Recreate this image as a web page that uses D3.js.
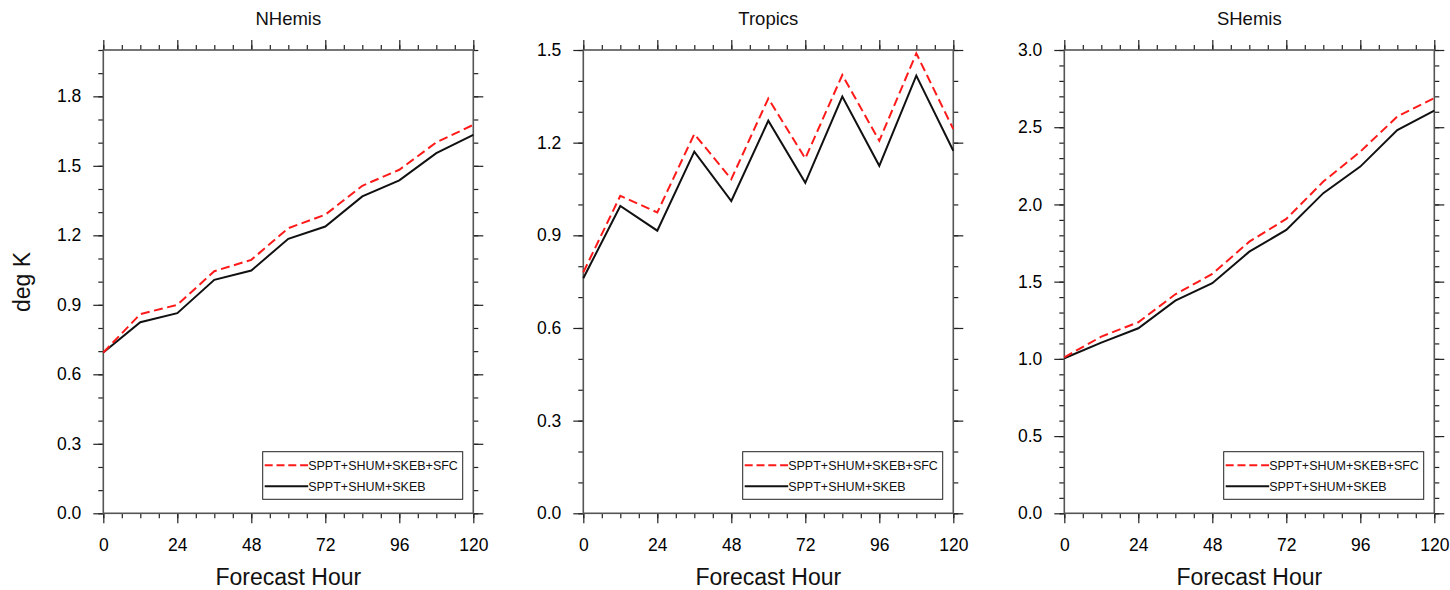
<!DOCTYPE html>
<html>
<head>
<meta charset="utf-8">
<script src="https://cdn.jsdelivr.net/npm/d3@7"></script>
<style>
  html, body { margin: 0; padding: 0; background: #fff; }
  svg { display: block; font-family: "Liberation Sans", Arial, Helvetica, sans-serif; }
</style>
</head>
<body>
<svg id="chart" width="1450" height="590"></svg>
<script>
// ---- data ----
const hours = [0, 12, 24, 36, 48, 60, 72, 84, 96, 108, 120];
const seriesNames = ["SPPT+SHUM+SKEB+SFC", "SPPT+SHUM+SKEB"];
const panelTitles = ["NHemis", "Tropics", "SHemis"];

const nhemisSfc  = [0.694, 0.860, 0.900, 1.045, 1.094, 1.231, 1.289, 1.414, 1.483, 1.601, 1.677];
const nhemisBase = [0.694, 0.825, 0.864, 1.008, 1.048, 1.185, 1.238, 1.368, 1.437, 1.555, 1.634];
const tropicsSfc  = [0.780, 1.028, 0.974, 1.228, 1.082, 1.343, 1.149, 1.419, 1.206, 1.489, 1.244];
const tropicsBase = [0.761, 0.995, 0.915, 1.171, 1.011, 1.271, 1.070, 1.349, 1.125, 1.417, 1.174];
const shemisSfc  = [1.010, 1.144, 1.237, 1.418, 1.550, 1.759, 1.906, 2.148, 2.342, 2.569, 2.688];
const shemisBase = [1.004, 1.105, 1.198, 1.377, 1.490, 1.694, 1.835, 2.073, 2.245, 2.482, 2.607];

const xMajorTicks = [0, 24, 48, 72, 96, 120];
const xMinorTicks = d3.range(0, 121, 6);
const nhemisYTicks  = [0.0, 0.3, 0.6, 0.9, 1.2, 1.5, 1.8];
const tropicsYTicks = [0.0, 0.3, 0.6, 0.9, 1.2, 1.5];
const shemisYTicks  = [0.0, 0.5, 1.0, 1.5, 2.0, 2.5, 3.0];
const yMaxes = [2.0, 1.5, 3.0];

const xLabel = "Forecast Hour";
const yLabel = "deg K";

// ---- layout ----
const panels = [
  { title: panelTitles[0], left: 103.3, yMax: yMaxes[0], yTicks: nhemisYTicks, sfc: nhemisSfc, base: nhemisBase },
  { title: panelTitles[1], left: 583.3, yMax: yMaxes[1], yTicks: tropicsYTicks, sfc: tropicsSfc, base: tropicsBase },
  { title: panelTitles[2], left: 1064.3, yMax: yMaxes[2], yTicks: shemisYTicks, sfc: shemisSfc, base: shemisBase }
];
const plotW = 370, plotTop = 50, plotBottom = 513.3;
const svg = d3.select("#chart");
const frameColor = "#555";
const tickColor = "#222";

panels.forEach((p, i) => {
  const x = d3.scaleLinear().domain([0, 120]).range([p.left, p.left + plotW]);
  const y = d3.scaleLinear().domain([0, p.yMax]).range([plotBottom, plotTop]);
  const g = svg.append("g");
  const yMinor = d3.range(0, Math.round(p.yMax * 10) + 1).map(v => v / 10);

  function styleAxis(sel) {
    sel.select(".domain").remove();
    sel.selectAll(".tick line").attr("stroke", tickColor).attr("stroke-width", 1.2);
  }
  // minor ticks
  [[d3.axisBottom(x), `translate(0,${plotBottom})`, xMinorTicks],
   [d3.axisTop(x), `translate(0,${plotTop})`, xMinorTicks]].forEach(([ax, tr, tv]) => {
    g.append("g").attr("transform", tr)
      .call(ax.tickValues(tv).tickSize(5).tickFormat(""))
      .call(styleAxis);
  });
  [[d3.axisLeft(y), `translate(${p.left},0)`], [d3.axisRight(y), `translate(${p.left + plotW},0)`]].forEach(([ax, tr]) => {
    g.append("g").attr("transform", tr)
      .call(ax.tickValues(yMinor).tickSize(5).tickFormat(""))
      .call(styleAxis);
  });
  // major ticks
  const xb = g.append("g").attr("transform", `translate(0,${plotBottom})`)
    .call(d3.axisBottom(x).tickValues(xMajorTicks).tickSize(10).tickPadding(15).tickFormat(d3.format("d")))
    .call(styleAxis);
  xb.selectAll("text").attr("font-size", 17.5).attr("fill", "#000").attr("font-family", "Liberation Sans, Arial, sans-serif");
  g.append("g").attr("transform", `translate(0,${plotTop})`)
    .call(d3.axisTop(x).tickValues(xMajorTicks).tickSize(10).tickFormat(""))
    .call(styleAxis);
  const yl = g.append("g").attr("transform", `translate(${p.left},0)`)
    .call(d3.axisLeft(y).tickValues(p.yTicks).tickSize(10).tickPadding(12).tickFormat(d3.format(".1f")))
    .call(styleAxis);
  yl.selectAll("text").attr("font-size", 17.5).attr("fill", "#000").attr("font-family", "Liberation Sans, Arial, sans-serif");
  g.append("g").attr("transform", `translate(${p.left + plotW},0)`)
    .call(d3.axisRight(y).tickValues(p.yTicks).tickSize(10).tickFormat(""))
    .call(styleAxis);

  // frame
  g.append("rect").attr("x", p.left).attr("y", plotTop).attr("width", plotW).attr("height", plotBottom - plotTop)
    .attr("fill", "none").attr("stroke", frameColor).attr("stroke-width", 1.6);

  // lines
  const line = d3.line().x((d, k) => x(hours[k])).y(d => y(d));
  g.append("path").datum(p.base).attr("d", line)
    .attr("fill", "none").attr("stroke", "#111").attr("stroke-width", 2);
  g.append("path").datum(p.sfc).attr("d", line)
    .attr("fill", "none").attr("stroke", "#ff1a1a").attr("stroke-width", 2).attr("stroke-dasharray", "9,4.5");

  // titles
  g.append("text").attr("x", p.left + plotW / 2).attr("y", 25).attr("text-anchor", "middle")
    .attr("font-size", 18.5).attr("fill", "#111").text(p.title);
  g.append("text").attr("x", p.left + plotW / 2).attr("y", 585).attr("text-anchor", "middle")
    .attr("font-size", 23).attr("fill", "#111").text(xLabel);

  // legend
  const lx = p.left + plotW - 210.6, ly = plotBottom - 61.6, lw = 200, lh = 47.6;
  const lg = g.append("g");
  lg.append("rect").attr("x", lx).attr("y", ly).attr("width", lw).attr("height", lh)
    .attr("fill", "#fff").attr("stroke", "#222").attr("stroke-width", 1);
  const rows = [{ name: seriesNames[0], color: "#ff1a1a", dash: "8,3.8", yy: ly + 13.5 },
                { name: seriesNames[1], color: "#111", dash: null, yy: ly + 34.5 }];
  rows.forEach(r => {
    lg.append("line").attr("x1", lx + 2).attr("x2", lx + 45.5).attr("y1", r.yy).attr("y2", r.yy)
      .attr("stroke", r.color).attr("stroke-width", 2).attr("stroke-dasharray", r.dash);
    lg.append("text").attr("x", lx + 45.5).attr("y", r.yy).attr("dy", "0.35em")
      .attr("font-size", 12.5).attr("fill", "#111").text(r.name);
  });
});

// y-axis label
svg.append("text").attr("transform", "translate(30,282) rotate(-90)").attr("text-anchor", "middle")
  .attr("font-size", 23).attr("fill", "#111").text(yLabel);
</script>
</body>
</html>
